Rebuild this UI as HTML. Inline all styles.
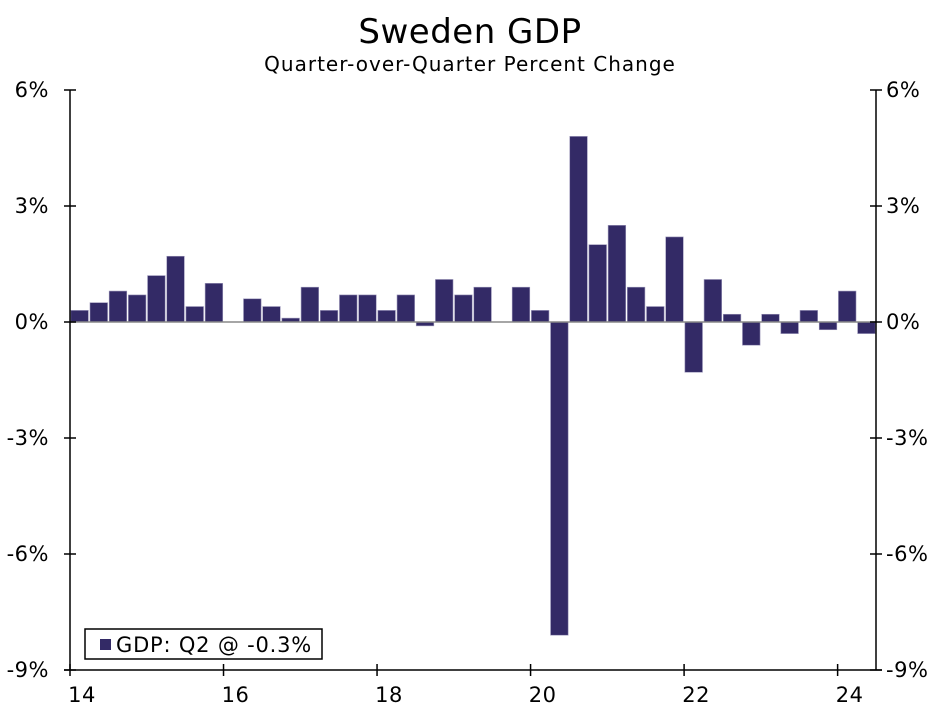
<!DOCTYPE html>
<html><head><meta charset="utf-8">
<style>
html,body{margin:0;padding:0;background:#fff;}
svg{display:block;font-family:"DejaVu Sans","Liberation Sans",sans-serif;}
</style></head>
<body>
<svg id="chart" width="947" height="727" viewBox="0 0 947 727">
<text x="470" y="43" text-anchor="middle" font-size="34" letter-spacing="0.5" fill="#000">Sweden GDP</text>
<text x="470" y="71" text-anchor="middle" font-size="20" letter-spacing="1" fill="#000">Quarter-over-Quarter Percent Change</text>
<g id="bars"></g>
<g id="axes"></g>
<g>
<rect x="85" y="629" width="237" height="30" fill="#fff" stroke="#000" stroke-width="1.5"/>
<rect x="100" y="639" width="11" height="11" fill="#332a66"/>
<text x="116" y="652" font-size="21" letter-spacing="0.8" fill="#000">GDP: Q2 @ -0.3%</text>
</g>
</svg>
<script>
const quarters = ["14Q1","14Q2","14Q3","14Q4","15Q1","15Q2","15Q3","15Q4","16Q1","16Q2","16Q3","16Q4","17Q1","17Q2","17Q3","17Q4","18Q1","18Q2","18Q3","18Q4","19Q1","19Q2","19Q3","19Q4","20Q1","20Q2","20Q3","20Q4","21Q1","21Q2","21Q3","21Q4","22Q1","22Q2","22Q3","22Q4","23Q1","23Q2","23Q3","23Q4","24Q1","24Q2"];
const gdpValues = [0.3,0.5,0.8,0.7,1.2,1.7,0.4,1.0,0.0,0.6,0.4,0.1,0.9,0.3,0.7,0.7,0.3,0.7,-0.1,1.1,0.7,0.9,0.0,0.9,0.3,-8.1,4.8,2.0,2.5,0.9,0.4,2.2,-1.3,1.1,0.2,-0.6,0.2,-0.3,0.3,-0.2,0.8,-0.3];
const yTicks = [6,3,0,-3,-6,-9];
const yTickLabels = ["6%","3%","0%","-3%","-6%","-9%"];
const xTickYears = [14,16,18,20,22,24];
const xTickLabels = ["14","16","18","20","22","24"];

const L=70,R=876,T=90,B=670,yMax=6,yMin=-9;
const n=quarters.length;
const qw=(R-L)/n;
function y(v){return T+(yMax-v)/(yMax-yMin)*(B-T);}
function xq(i){return L+i*qw;}
function xYear(yr){return L+(yr-14)*4*qw;}
const NS="http://www.w3.org/2000/svg";
function mk(tag,attrs,parent){const e=document.createElementNS(NS,tag);for(const k in attrs)e.setAttribute(k,attrs[k]);parent.appendChild(e);return e;}
const bars=document.getElementById('bars'), axes=document.getElementById('axes');
const zl=mk('line',{x1:L,x2:R,y1:y(0),y2:y(0),stroke:'#888','stroke-width':1.5},axes);


gdpValues.forEach((v,i)=>{
  if(v===0)return;
  const y0=y(0),y1=y(v);
  const r=mk('rect',{x:xq(i)+0.8,width:qw-1.6,y:Math.min(y0,y1),height:Math.abs(y1-y0),fill:'#332a66',stroke:'#9a95b8','stroke-width':0.6},bars);
  
  
});
const la=mk('line',{x1:L,x2:L,y1:T,y2:B,stroke:'#000','stroke-width':1.5},axes);


const ra=mk('line',{x1:R,x2:R,y1:T,y2:B,stroke:'#000','stroke-width':1.5},axes);


const xa=mk('line',{x1:L-6,x2:R+6,y1:B,y2:B,stroke:'#000','stroke-width':1.5},axes);


yTicks.forEach((t,i)=>{
  const yy=y(t);
  mk('line',{x1:L-6,x2:L+6,y1:yy,y2:yy,stroke:'#000','stroke-width':1.5},axes);
  mk('line',{x1:R-6,x2:R+6,y1:yy,y2:yy,stroke:'#000','stroke-width':1.5},axes);
  const tl=mk('text',{x:L-21,y:yy+7,'text-anchor':'end','font-size':21,'letter-spacing':0.5},axes);
  tl.textContent=yTickLabels[i];
  
  
  const tr=mk('text',{x:R+10,y:yy+7,'text-anchor':'start','font-size':21,'letter-spacing':0.5},axes);
  tr.textContent=yTickLabels[i];
  
  
});
xTickYears.forEach((yr,i)=>{
  const xx=xYear(yr);
  mk('line',{x1:xx,x2:xx,y1:B-6,y2:B+6,stroke:'#000','stroke-width':1.5},axes);
  const t=mk('text',{x:xx+12,y:B+32,'text-anchor':'middle','font-size':21,'letter-spacing':0.5},axes);
  t.textContent=xTickLabels[i];
  
  
});
</script>
</body></html>
